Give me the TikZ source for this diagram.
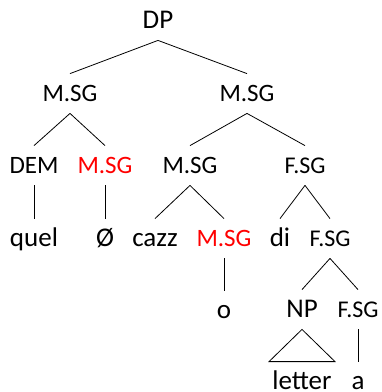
\documentclass[tikz,border=0pt]{standalone}
\usepackage{fontspec}
\setmainfont{Carlito}
\begin{document}
\begin{tikzpicture}[x=1pt,y=-1pt,line width=0.8pt,
    lbl/.style={anchor=base,inner xsep=3pt,inner ysep=11pt,text height=16pt,text depth=1pt},
    cat/.style={lbl,font=\fontsize{25}{30}\selectfont},
    fcat/.style={lbl,font=\fontsize{24}{30}\selectfont},
    word/.style={lbl,font=\fontsize{27}{32}\selectfont}]
        \useasboundingbox (0,0) rectangle (382,392);
        % labels
        \node[word] (dp) at (158,28) {DP};
        \node[cat] (msgl) at (70,101) {M.SG};
        \node[cat] (msgr) at (247,101) {M.SG};
        \node[cat] (dem) at (34,173) {DEM};
        \node[cat,red] (zerosg) at (105,173) {M.SG};
        \node[cat] (nounsg) at (190,173) {M.SG};
        \node[fcat] (fsga) at (305,173) {F.SG};
        \node[word] (quel) at (34,246) {quel};
        \node[word] (zero) at (105,246) {Ø};
        \node[word] (cazz) at (155,246) {cazz};
        \node[cat,red] (suffsg) at (224,246) {M.SG};
        \node[word] (di) at (280,246) {di};
        \node[fcat] (fsgb) at (330,246) {F.SG};
        \node[word] (o) at (224,318) {o};
        \node[word] (np) at (302,317) {NP};
        \node[fcat] (fsgc) at (358,317) {F.SG};
        \node[word] (letter) at (302,389) {letter};
        \node[word] (a) at (358,389) {a};
        % branches
        \draw (dp.south) -- (msgl.north);
        \draw (dp.south) -- (msgr.north);
        \draw (msgl.south) -- (dem.north);
        \draw (msgl.south) -- (zerosg.north);
        \draw (msgr.south) -- (nounsg.north);
        \draw (msgr.south) -- (fsga.north);
        \draw (dem.south) -- (quel.north);
        \draw (zerosg.south) -- (zero.north);
        \draw (nounsg.south) -- (cazz.north);
        \draw (nounsg.south) -- (suffsg.north);
        \draw (fsga.south) -- (di.north);
        \draw (fsga.south) -- (fsgb.north);
        \draw (suffsg.south) -- (o.north);
        \draw (fsgb.south) -- (np.north);
        \draw (fsgb.south) -- (fsgc.north);
        \draw (np.south) -- (letter.north west) -- (letter.north east) -- cycle;
        \draw (fsgc.south) -- (a.north);
\end{tikzpicture}
\end{document}
